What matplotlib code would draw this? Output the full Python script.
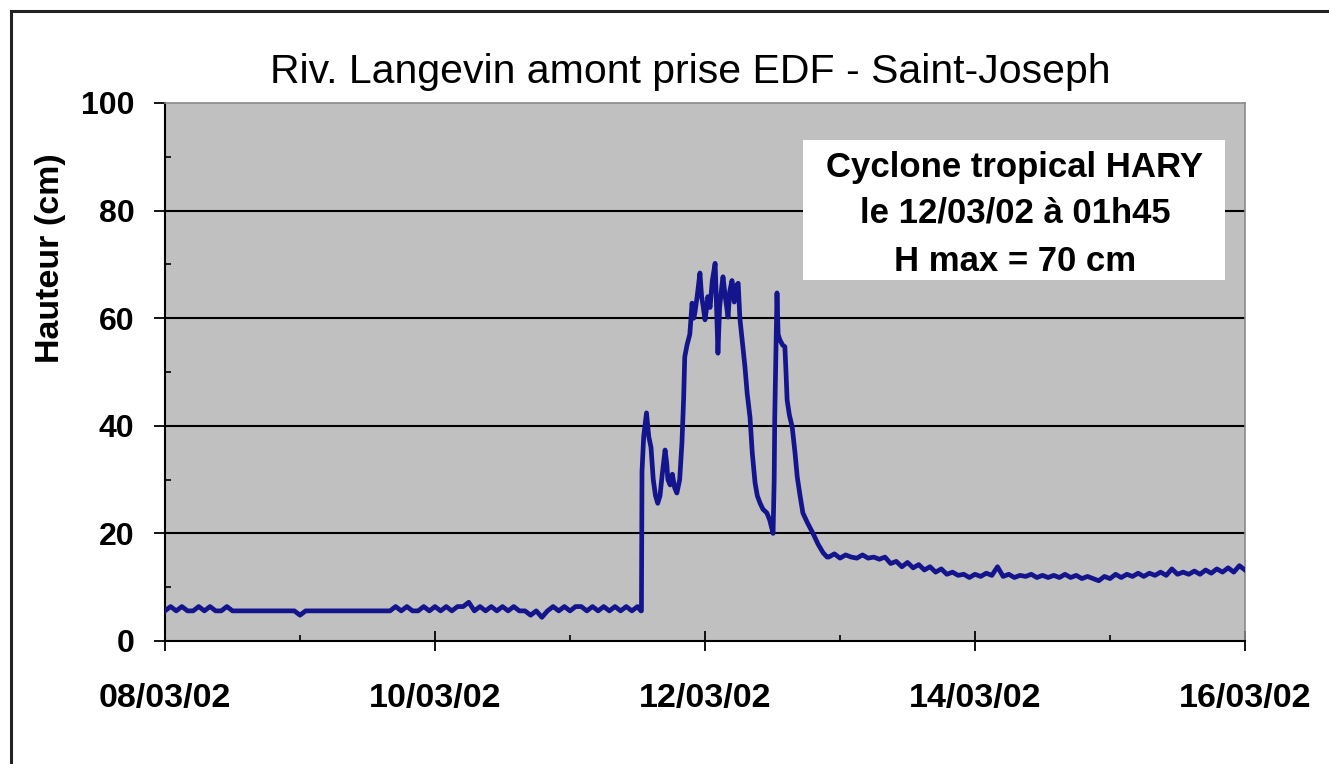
import matplotlib
matplotlib.use("Agg")
import matplotlib.pyplot as plt
from matplotlib.lines import Line2D
from matplotlib.patches import Rectangle
from matplotlib.ticker import FixedLocator, MultipleLocator

plt.rcParams['font.family'] = ['Liberation Sans', 'DejaVu Sans']

# ---- data (hours since 08/03/02 00:00, height in cm) ----
base_hours = list(range(0, 85))
base_values = [5.6, 6.4, 5.6, 6.4, 5.6, 5.6, 6.4, 5.6, 6.4, 5.6, 5.6, 6.4,
               5.6, 5.6, 5.6, 5.6, 5.6, 5.6, 5.6, 5.6, 5.6, 5.6, 5.6, 5.6,
               4.8, 5.6, 5.6, 5.6, 5.6, 5.6, 5.6, 5.6, 5.6, 5.6, 5.6, 5.6,
               5.6, 5.6, 5.6, 5.6, 5.6, 6.4, 5.6, 6.4, 5.6, 5.6, 6.4, 5.6,
               6.4, 5.6, 6.4, 5.6, 6.4, 6.4, 7.2, 5.6, 6.4, 5.6, 6.4, 5.6,
               6.4, 5.6, 6.4, 5.6, 5.6, 4.8, 5.6, 4.4, 5.6, 6.4, 5.6, 6.4,
               5.6, 6.4, 6.4, 5.6, 6.4, 5.6, 6.4, 5.6, 6.4, 5.6, 6.4, 5.6, 6.4]

event_hours = [84.6, 84.7, 84.8, 85.1, 85.6, 86.0, 86.4, 86.8, 87.2, 87.6, 88.0, 88.4,
               88.9, 89.2, 89.4, 89.8, 90.2, 90.6, 91.0, 91.5, 91.9, 92.2, 92.4, 92.8,
               93.3, 93.5, 93.7, 94.0, 94.2, 94.6, 95.1, 95.4, 95.7, 96.0, 96.3, 96.5,
               96.9, 97.3, 97.8, 98.0, 98.3, 98.6, 99.0, 99.2, 99.6, 100.1, 100.4, 100.8,
               101.2, 101.5, 101.9, 102.2, 102.6, 103.1, 103.5, 104.0, 104.4, 104.9,
               105.3, 105.8, 106.3, 107.0, 107.5, 108.1, 108.3, 108.4, 108.8, 109.0,
               109.3, 109.8, 110.2, 110.4, 110.6, 111.0, 111.5, 112.0, 112.4, 112.9,
               113.4, 114.2, 115.2, 116.1, 117.0, 117.7]
event_values = [5.6, 5.6, 31.5, 38, 42.4, 38, 36, 30, 27, 25.6, 27, 31,
                35.5, 33, 30, 29, 31, 28.5, 27.5, 30, 36.8, 45, 52.8, 55,
                57, 60, 62.8, 60, 61, 64, 68.4, 64, 62, 59.7, 62, 64,
                62, 67, 70.2, 64, 53.5, 62, 66, 67.7, 64, 60.2, 65, 67,
                63, 66, 66.5, 60, 56, 51, 46, 41.6, 35, 29.4,
                27, 25.6, 24.5, 23.8, 22.5, 20, 30, 41.6, 64.7, 57,
                56, 55, 54.7, 50, 44.8, 42, 39.8, 35, 30.5, 27,
                23.8, 22, 20, 18, 16.4, 15.6]

recess_hours = list(range(118, 193))
recess_values = [15.6, 16.2, 15.4, 16.0, 15.6, 15.4, 16.0, 15.4, 15.6, 15.2, 15.6, 14.4,
                 14.8, 13.8, 14.6, 13.6, 14.2, 13.2, 13.8, 12.8, 13.4, 12.4, 12.8, 12.2,
                 12.4, 11.8, 12.4, 12.0, 12.6, 12.2, 13.8, 12.0, 12.4, 11.8, 12.2, 12.0,
                 12.4, 11.8, 12.2, 11.8, 12.2, 11.8, 12.4, 11.8, 12.2, 11.6, 12.0, 11.6,
                 11.2, 12.0, 11.6, 12.4, 11.8, 12.4, 12.0, 12.6, 12.0, 12.6, 12.2, 12.8,
                 12.2, 13.4, 12.4, 12.8, 12.4, 13.0, 12.4, 13.2, 12.6, 13.4, 12.8, 13.6,
                 12.8, 14.0, 13.2]

tick_hours = [0, 48, 96, 144, 192]
tick_labels = ['08/03/02', '10/03/02', '12/03/02', '14/03/02', '16/03/02']

title = 'Riv. Langevin amont prise EDF - Saint-Joseph'
ylabel = 'Hauteur (cm)'
note_lines = ['Cyclone tropical HARY', 'le 12/03/02 à 01h45', 'H max = 70 cm']

hours = base_hours + event_hours + recess_hours
values = base_values + event_values + recess_values

W, H = 1329, 764
fig = plt.figure(figsize=(W / 100, H / 100), dpi=100)
fig.patch.set_facecolor('white')

ax = fig.add_axes([165 / W, 1 - 641 / H, 1080 / W, 538 / H])
ax.set_facecolor('#C0C0C0')
ax.plot(hours, values, color='#14148C', lw=3.4, zorder=4)

ax.set_xlim(0, 192)
ax.set_ylim(0, 100)
ax.yaxis.set_major_locator(MultipleLocator(20))
ax.yaxis.set_minor_locator(MultipleLocator(10))
ax.xaxis.set_major_locator(FixedLocator(tick_hours))
ax.set_xticklabels(tick_labels)
ax.xaxis.set_minor_locator(MultipleLocator(24))

for v in [20, 40, 60, 80]:
    ax.axhline(v, color='black', lw=1.5, zorder=2)

for s in ['left', 'bottom']:
    ax.spines[s].set_color('black')
    ax.spines[s].set_linewidth(1.5)
for s in ['top', 'right']:
    ax.spines[s].set_color('#8a8a8a')
    ax.spines[s].set_linewidth(1.2)

ax.tick_params(axis='y', which='major', direction='out', length=8, width=1.3, pad=14,
               labelsize=23)
ax.tick_params(axis='y', which='minor', direction='in', length=4.5, width=1.2)
ax.tick_params(axis='x', which='major', direction='inout', length=15, width=1.3, pad=23,
               labelsize=24.5)
ax.tick_params(axis='x', which='minor', direction='in', length=4.5, width=1.2)
for lab in ax.get_xticklabels() + ax.get_yticklabels():
    lab.set_fontweight('bold')

# annotation box
ax.add_patch(Rectangle((0.5907, 0.671), 0.3907, 0.260, transform=ax.transAxes,
                       facecolor='white', edgecolor='none', zorder=3))
for txt, yy in zip(note_lines, [0.881, 0.7955, 0.7045]):
    ax.text(0.787, yy, txt, transform=ax.transAxes, ha='center', va='center',
            fontsize=25, fontweight='bold', zorder=5)

fig.text(690 / W, 1 - 83 / H, title, ha='center', va='baseline', fontsize=29.5)
fig.text(50 / W, 1 - 258 / H, ylabel, rotation=90, ha='center', va='center',
         fontsize=24.5, fontweight='bold')

# outer frame (top and left edges visible)
fig.add_artist(Line2D([11 / W, 1], [1 - 11 / H, 1 - 11 / H], transform=fig.transFigure,
                      color='#222222', lw=2.2))
fig.add_artist(Line2D([11 / W, 11 / W], [0, 1 - 11 / H], transform=fig.transFigure,
                      color='#222222', lw=2.2))

fig.savefig('out.png', dpi=100)
